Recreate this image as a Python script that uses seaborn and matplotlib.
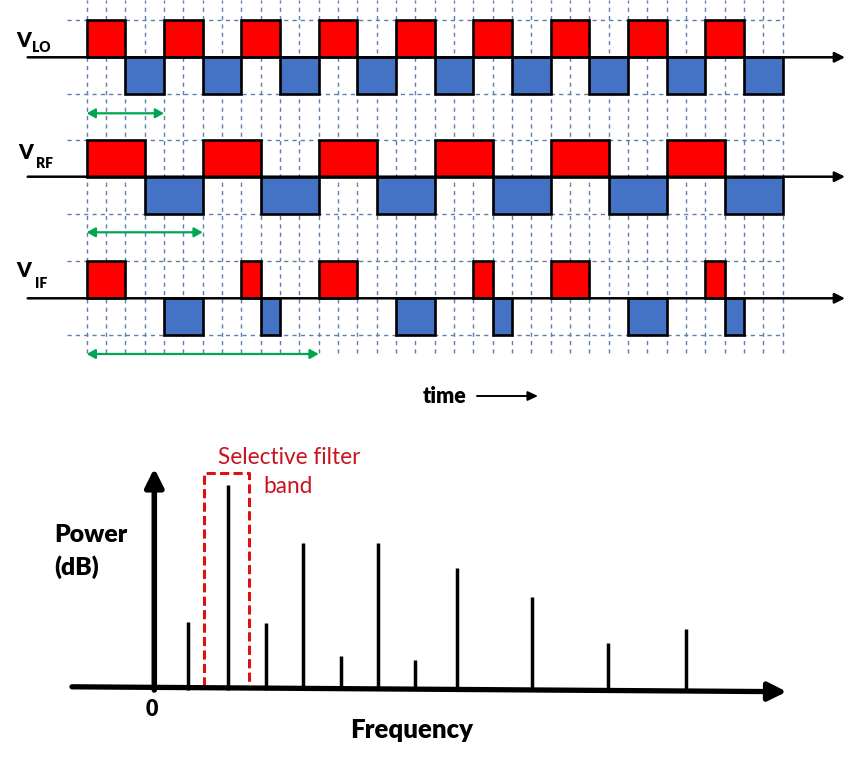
import matplotlib
matplotlib.use("Agg")
import matplotlib.pyplot as plt
from matplotlib.patches import ArrowStyle
import pandas as pd
import seaborn as sns

# ---------------- data ----------------
# time-domain traces (time in grid units): start / width of the +1 and -1 pulses
lo_pos_start = [0, 4, 8, 12, 16, 20, 24, 28, 32]
lo_pos_width = [2, 2, 2, 2, 2, 2, 2, 2, 2]
lo_neg_start = [2, 6, 10, 14, 18, 22, 26, 30, 34]
lo_neg_width = [2, 2, 2, 2, 2, 2, 2, 2, 2]

rf_pos_start = [0, 6, 12, 18, 24, 30]
rf_pos_width = [3, 3, 3, 3, 3, 3]
rf_neg_start = [3, 9, 15, 21, 27, 33]
rf_neg_width = [3, 3, 3, 3, 3, 3]

if_pos_start = [0, 8, 12, 20, 24, 32]
if_pos_width = [2, 1, 2, 1, 2, 1]
if_neg_start = [4, 9, 16, 21, 28, 33]
if_neg_width = [2, 1, 2, 1, 2, 1]

trace_labels = ["LO", "RF", "IF"]
trace_periods = [4, 6, 12]
grid_times = list(range(0, 37))

# spectrum
freq = [0.91, 1.98, 2.99, 4.0, 5.0, 6.0, 7.0, 8.12, 10.13, 12.16, 14.26]
power = [67, 204, 66, 146, 33, 146, 29, 121, 92, 46, 60]
filter_band = [1.34, 2.53]
filter_top = 216

# ---------------- style ----------------
sns.set_theme(style="white")
plt.rcParams["font.family"] = ["Lato", "DejaVu Sans"]

RED = "#ff0000"
BLUE = "#4472c4"
GRID = "#5f7eab"
GREEN = "#00a651"
FRED = "#dd1111"
TRED = "#c8141e"
BW = "heavy"

W, H = 853, 762
fig = plt.figure(figsize=(W / 100, H / 100), dpi=100)
fig.patch.set_facecolor("white")

# ---------------- top panel: time traces ----------------
TOP_H = 410
ax = fig.add_axes([0, 1 - TOP_H / H, 1, TOP_H / H])
X0, SX, SY = 86.7, 19.333, 37.0
tx = lambda px: (px - X0) / SX
ty = lambda py: -py / SY
ax.set_xlim(tx(0), tx(W))
ax.set_ylim(ty(TOP_H), 0)
ax.axis("off")

baselines = [ty(57.3), ty(176.7), ty(298.3)]
traces = [
    (lo_pos_start, lo_pos_width, lo_neg_start, lo_neg_width),
    (rf_pos_start, rf_pos_width, rf_neg_start, rf_neg_width),
    (if_pos_start, if_pos_width, if_neg_start, if_neg_width),
]

# dashed grid
ax.vlines(grid_times, ty(353), 0, colors=GRID, linestyles=(0, (3, 3)), lw=1.0, zorder=0)
for base in baselines:
    ax.hlines([base + 1, base - 1], tx(67), grid_times[-1], colors=GRID,
              linestyles=(0, (3, 3)), lw=1.0, zorder=0)

for base, (ps, pw, ns, nw) in zip(baselines, traces):
    ax.bar(ps, [1] * len(ps), width=pw, bottom=base, align="edge",
           color=RED, edgecolor="black", lw=1.9, zorder=2)
    ax.bar(ns, [-1] * len(ns), width=nw, bottom=base, align="edge",
           color=BLUE, edgecolor="black", lw=1.9, zorder=2)
    ax.annotate("", xy=(tx(845), base), xytext=(tx(27.7), base),
                arrowprops=dict(arrowstyle=ArrowStyle("-|>", head_length=0.6, head_width=0.3),
                                mutation_scale=10, lw=1.8, color="black",
                                shrinkA=0, shrinkB=0), zorder=4)

# labels V_xx
lab_pos = [((16, 46.7), (31.7, 51.7)), ((18.3, 159.3), (36, 168.3)), ((16.7, 276.7), (35, 288.3))]
for name, (vp, sp) in zip(trace_labels, lab_pos):
    ax.text(tx(vp[0]), ty(vp[1]), "V", fontsize=15, fontweight=BW,
            ha="left", va="baseline", color="black")
    ax.text(tx(sp[0]), ty(sp[1]), name, fontsize=10, fontweight=BW,
            ha="left", va="baseline", color="black")

# green period arrows
green_y = [ty(113.3), ty(232.3), ty(354)]
for per, gy in zip(trace_periods, green_y):
    ax.annotate("", xy=(per, gy), xytext=(0, gy),
                arrowprops=dict(arrowstyle=ArrowStyle("<|-|>", head_length=0.5, head_width=0.28),
                                mutation_scale=10, lw=1.6, color=GREEN,
                                shrinkA=0, shrinkB=0))

# time label
ax.text(tx(422.7), ty(403.3), "time", fontsize=15.5, fontweight=BW,
        ha="left", va="baseline", color="black")
ax.annotate("", xy=(tx(538), ty(396)), xytext=(tx(477), ty(396)),
            arrowprops=dict(arrowstyle=ArrowStyle("-|>", head_length=0.6, head_width=0.28),
                            mutation_scale=10, lw=1.4, color="black",
                            shrinkA=0, shrinkB=0))

# ---------------- bottom panel: spectrum ----------------
BOT_TOP = 410
bx = fig.add_axes([0, 0, 1, (H - BOT_TOP) / H])
FX0, FSX, FY0 = 154.3, 37.3, 688.5
fx = lambda px: (px - FX0) / FSX
fy = lambda py: FY0 - py
bx.set_xlim(fx(0), fx(W))
bx.set_ylim(fy(H), fy(BOT_TOP))
bx.axis("off")

spec = pd.DataFrame({"freq": freq, "power": power})
bx.vlines(spec["freq"], -1.5, spec["power"], colors="black", lw=2.5, zorder=2)

# axes arrows
bx.annotate("", xy=(fx(786.7), fy(691.7)), xytext=(fx(72), fy(686.8)),
            arrowprops=dict(arrowstyle=ArrowStyle("-|>", head_length=1.1, head_width=0.55),
                            mutation_scale=10, lw=3.8, color="black",
                            shrinkA=0, shrinkB=0), zorder=3)
bx.annotate("", xy=(0, fy(468.3)), xytext=(0, fy(690)),
            arrowprops=dict(arrowstyle=ArrowStyle("-|>", head_length=1.1, head_width=0.55),
                            mutation_scale=10, lw=4.0, color="black",
                            shrinkA=0, shrinkB=0), zorder=3)

# filter band
b0, b1 = filter_band
bx.plot([b0, b0, b1, b1], [3, filter_top, filter_top, 3], color=FRED, lw=2.2,
        ls=(0, (3.0, 1.4)), zorder=2)
bx.text(fx(289.7), fy(464), "Selective filter", fontsize=16.3, color=TRED,
        ha="center", va="baseline")
bx.text(fx(288.3), fy(493.3), "band", fontsize=16.3, color=TRED,
        ha="center", va="baseline")

# text labels
bx.text(fx(54.3), fy(542.3), "Power", fontsize=17.8, fontweight=BW,
        ha="left", va="baseline", color="black")
bx.text(fx(54.3), fy(575), "(dB)", fontsize=17.8, fontweight=BW,
        ha="left", va="baseline", color="black")
bx.text(fx(152.3), fy(716), "0", fontsize=15.5, fontweight=BW,
        ha="center", va="baseline", color="black")
bx.text(fx(412), fy(737.7), "Frequency", fontsize=18.5, fontweight=BW,
        ha="center", va="baseline", color="black")

fig.savefig("out.png", dpi=100, facecolor="white")
